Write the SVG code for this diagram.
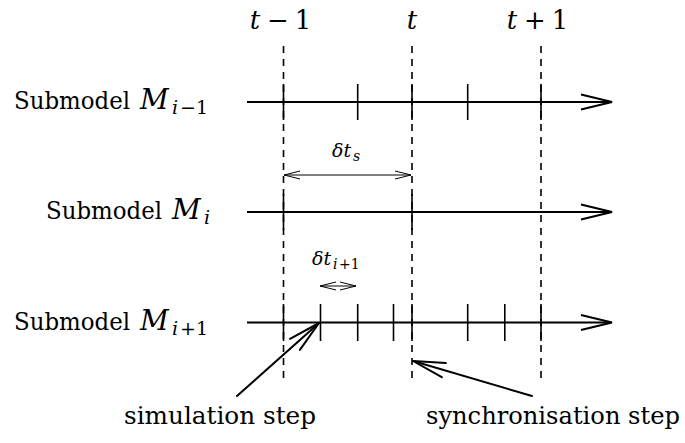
<svg xmlns="http://www.w3.org/2000/svg" width="685" height="443" viewBox="0 0 685 443">
<style>
text { font-family: "DejaVu Serif", "Liberation Serif", serif; fill: #000; }
.lbl { font-size: 24px; }
.mm { font-size: 28px; font-style: italic; }
.sub { font-size: 19px; }
.math { font-size: 26px; }
.small { font-size: 19px; }
.smsub { font-size: 14px; }
.big { font-size: 24px; }
.it { font-style: italic; }
.axis { stroke: #000; stroke-width: 2; fill: none; }
.tick { stroke: #000; stroke-width: 1.6; }
.dash { stroke: #000; stroke-width: 1.6; stroke-dasharray: 7 6; }
.thin { stroke: #000; stroke-width: 1; fill: none; }
.call { stroke: #000; stroke-width: 2; fill: none; stroke-linecap: round; }
</style>
<rect width="685" height="443" fill="#fff"/>

<g id="time-labels">
  <g id="t-minus-1">
    <text class="math it" x="255" y="29" text-anchor="middle">t</text>
    <text class="math" x="278" y="29" text-anchor="middle">−</text>
    <text class="math" x="303" y="29" text-anchor="middle">1</text>
  </g>
  <g id="t">
    <text class="math it" x="412" y="29" text-anchor="middle">t</text>
  </g>
  <g id="t-plus-1">
    <text class="math it" x="512" y="29" text-anchor="middle">t</text>
    <text class="math" x="535" y="29" text-anchor="middle">+</text>
    <text class="math" x="560" y="29" text-anchor="middle">1</text>
  </g>
</g>

<g id="connectors">
  <g id="dashed-guides">
    <line class="dash" x1="283.5" y1="46" x2="283.5" y2="378"/>
    <line class="dash" x1="412" y1="46" x2="412" y2="378"/>
    <line class="dash" x1="541" y1="46" x2="541" y2="378"/>
  </g>
  <g id="callout-simulation">
    <line class="call" x1="237" y1="396" x2="319" y2="323"/>
    <polyline class="call" points="290,338.8 319,323 299.9,349.9"/>
  </g>
  <g id="callout-synchronisation">
    <line class="call" x1="532" y1="396" x2="413" y2="361"/>
    <polyline class="call" points="441.8,377.2 413,361 445.9,363"/>
  </g>
  <g id="delta-ts-arrow">
    <line class="thin" x1="284" y1="175" x2="411" y2="175"/>
    <polyline class="thin" points="300,171 284,175 300,179"/>
    <polyline class="thin" points="395,171 411,175 395,179"/>
  </g>
  <g id="delta-ti-arrow">
    <line class="thin" x1="320" y1="286" x2="356" y2="286"/>
    <polyline class="thin" points="336,282 320,286 336,290"/>
    <polyline class="thin" points="340,282 356,286 340,290"/>
  </g>
</g>

<g id="submodel-prev">
  <text class="lbl" x="14" y="109" textLength="116" lengthAdjust="spacingAndGlyphs">Submodel</text>
  <text class="mm" x="140" y="109">M</text>
  <text class="sub it" x="172" y="114">i</text>
  <text class="sub" x="180" y="114">−1</text>
  <line class="axis" x1="247" y1="102" x2="611" y2="102"/>
  <polyline class="axis" points="581,94.5 612,102 581,109.5"/>
  <line class="tick" x1="283.5" y1="84" x2="283.5" y2="120"/>
  <line class="tick" x1="357.7" y1="84" x2="357.7" y2="120"/>
  <line class="tick" x1="412" y1="84" x2="412" y2="120"/>
  <line class="tick" x1="467.7" y1="84" x2="467.7" y2="120"/>
  <line class="tick" x1="541" y1="84" x2="541" y2="120"/>
</g>

<g id="submodel-i">
  <text class="lbl" x="46" y="219" textLength="116" lengthAdjust="spacingAndGlyphs">Submodel</text>
  <text class="mm" x="172" y="219">M</text>
  <text class="sub it" x="204" y="224">i</text>
  <line class="axis" x1="247" y1="212" x2="611" y2="212"/>
  <polyline class="axis" points="581,204.5 612,212 581,219.5"/>
  <line class="tick" x1="283.5" y1="194" x2="283.5" y2="230"/>
  <line class="tick" x1="412" y1="194" x2="412" y2="230"/>
</g>

<g id="submodel-next">
  <text class="lbl" x="14" y="330" textLength="116" lengthAdjust="spacingAndGlyphs">Submodel</text>
  <text class="mm" x="140" y="330">M</text>
  <text class="sub it" x="172" y="335">i</text>
  <text class="sub" x="180" y="335">+1</text>
  <line class="axis" x1="247" y1="322.5" x2="611" y2="322.5"/>
  <polyline class="axis" points="581,315 612,322.5 581,330"/>
  <line class="tick" x1="283.5" y1="304" x2="283.5" y2="341"/>
  <line class="tick" x1="320.5" y1="304" x2="320.5" y2="341"/>
  <line class="tick" x1="357.7" y1="304" x2="357.7" y2="341"/>
  <line class="tick" x1="393.5" y1="304" x2="393.5" y2="341"/>
  <line class="tick" x1="412" y1="304" x2="412" y2="341"/>
  <line class="tick" x1="467.7" y1="304" x2="467.7" y2="341"/>
  <line class="tick" x1="504.8" y1="304" x2="504.8" y2="341"/>
  <line class="tick" x1="541" y1="304" x2="541" y2="341"/>
</g>

<g id="delta-ts">
  <text class="small it" x="332" y="157">δt</text>
  <text class="smsub it" x="353" y="161">s</text>
</g>

<g id="delta-ti">
  <text class="small it" x="312" y="265">δt</text>
  <text class="smsub it" x="333" y="269">i</text>
  <text class="smsub" x="339" y="269">+1</text>
</g>

<g id="label-simulation">
  <text class="big" x="124" y="424" textLength="192" lengthAdjust="spacingAndGlyphs">simulation step</text>
</g>
<g id="label-synchronisation">
  <text class="big" x="426" y="424" textLength="254" lengthAdjust="spacingAndGlyphs">synchronisation step</text>
</g>
</svg>
